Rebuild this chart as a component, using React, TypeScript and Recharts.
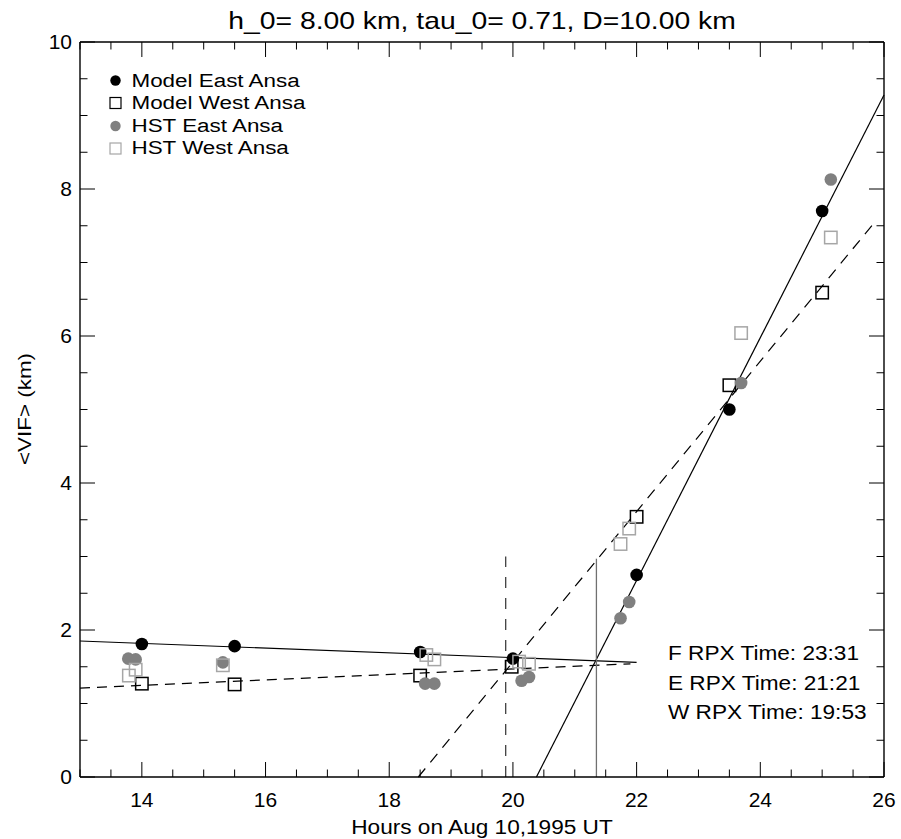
import React from 'react';
import { ComposedChart, Scatter, XAxis, YAxis, ReferenceLine } from 'recharts';

// ---- data ----
const modelEast = [
  { x: 14.0, y: 1.81 }, { x: 15.5, y: 1.78 }, { x: 18.5, y: 1.70 }, { x: 20.0, y: 1.61 },
  { x: 22.0, y: 2.75 }, { x: 23.5, y: 5.0 }, { x: 25.0, y: 7.70 },
];
const modelWest = [
  { x: 14.0, y: 1.27 }, { x: 15.5, y: 1.26 }, { x: 18.5, y: 1.38 }, { x: 19.98, y: 1.50 },
  { x: 22.0, y: 3.54 }, { x: 23.5, y: 5.33 }, { x: 25.0, y: 6.59 },
];
const hstEast = [
  { x: 13.78, y: 1.61 }, { x: 13.9, y: 1.60 }, { x: 15.31, y: 1.56 }, { x: 18.58, y: 1.27 },
  { x: 18.73, y: 1.27 }, { x: 20.14, y: 1.31 }, { x: 20.26, y: 1.36 }, { x: 21.74, y: 2.16 },
  { x: 21.88, y: 2.38 }, { x: 23.69, y: 5.36 }, { x: 25.14, y: 8.13 },
];
const hstWest = [
  { x: 13.79, y: 1.38 }, { x: 13.9, y: 1.46 }, { x: 15.31, y: 1.52 }, { x: 18.6, y: 1.66 },
  { x: 18.73, y: 1.60 }, { x: 20.1, y: 1.57 }, { x: 20.26, y: 1.54 }, { x: 21.74, y: 3.17 },
  { x: 21.88, y: 3.38 }, { x: 23.69, y: 6.04 }, { x: 25.14, y: 7.34 },
];

// fit lines (segments)
const eastFlatFit = [{ x: 13, y: 1.85 }, { x: 22, y: 1.56 }];
const westFlatFit = [{ x: 13, y: 1.21 }, { x: 21.9, y: 1.54 }];
const eastSteepFit = [{ x: 20.38, y: 0 }, { x: 26, y: 9.28 }];
const westSteepFit = [{ x: 18.47, y: 0 }, { x: 25.88, y: 7.58 }];
const westRpxLine = [{ x: 19.883, y: 0 }, { x: 19.883, y: 3.0 }];
const eastRpxLine = [{ x: 21.35, y: 0 }, { x: 21.35, y: 2.97 }];

// ticks
const xTicks = [13, 13.5, 14, 14.5, 15, 15.5, 16, 16.5, 17, 17.5, 18, 18.5, 19, 19.5, 20, 20.5, 21, 21.5, 22, 22.5, 23, 23.5, 24, 24.5, 25, 25.5, 26];
const xLabeled = [14, 16, 18, 20, 22, 24, 26];
const yTicks = [0, 0.5, 1, 1.5, 2, 2.5, 3, 3.5, 4, 4.5, 5, 5.5, 6, 6.5, 7, 7.5, 8, 8.5, 9, 9.5, 10];
const yLabeled = [0, 2, 4, 6, 8, 10];

const titleText = 'h_0= 8.00 km, tau_0= 0.71, D=10.00 km';
const xLabelText = 'Hours on Aug 10,1995 UT';
const yLabelText = '<VIF> (km)';
const legendItems = ['Model East Ansa', 'Model West Ansa', 'HST East Ansa', 'HST West Ansa'];
const rpxNotes = ['F RPX Time: 23:31', 'E RPX Time: 21:21', 'W RPX Time: 19:53'];

const FONT = '"Liberation Sans", Arial, Helvetica, sans-serif';
const MAJ = 15;
const MIN = 7.5;
const GRAY_FILL = '#808080';
const GRAY_SQ = '#a6a6a6';
const SX = 1.18; // horizontal stretch of the original's text

const isMajor = (v: number) => Math.abs(v / 2 - Math.round(v / 2)) < 1e-6;

const SText = ({ x, y, size, anchor = 'start', rotate = 0, sx = SX, children }: any) => (
  <text
    transform={`translate(${x},${y}) rotate(${rotate}) scale(${sx},1)`}
    textAnchor={anchor}
    fontSize={size}
    fontFamily={FONT}
    fill="#000"
  >
    {children}
  </text>
);

const BottomTick = (p: any) => {
  const v = p.payload.value;
  return (
    <g>
      <line x1={p.x} y1={p.y} x2={p.x} y2={p.y - (isMajor(v) ? MAJ : MIN)} stroke="#000" strokeWidth={1} />
      {xLabeled.includes(v) && (
        <SText x={p.x} y={p.y + 30} size={20} anchor="middle" sx={1.05}>{v}</SText>
      )}
    </g>
  );
};
const TopTick = (p: any) => {
  const v = p.payload.value;
  return <line x1={p.x} y1={p.y} x2={p.x} y2={p.y + (isMajor(v) ? MAJ : MIN)} stroke="#000" strokeWidth={1} />;
};
const LeftTick = (p: any) => {
  const v = p.payload.value;
  return (
    <g>
      <line x1={p.x} y1={p.y} x2={p.x + (isMajor(v) ? MAJ : MIN)} y2={p.y} stroke="#000" strokeWidth={1} />
      {yLabeled.includes(v) && (
        <SText x={p.x - 8} y={p.y + 7} size={20} anchor="end" sx={1.05}>{v}</SText>
      )}
    </g>
  );
};
const RightTick = (p: any) => {
  const v = p.payload.value;
  return <line x1={p.x} y1={p.y} x2={p.x - (isMajor(v) ? MAJ : MIN)} y2={p.y} stroke="#000" strokeWidth={1} />;
};

const blackDot = (p: any) => <circle cx={p.cx} cy={p.cy} r={6.3} fill="#000" />;
const grayDot = (p: any) => <circle cx={p.cx} cy={p.cy} r={6.3} fill={GRAY_FILL} />;
const blackSq = (p: any) => <rect x={p.cx - 6.2} y={p.cy - 6.2} width={12.4} height={12.4} fill="none" stroke="#000" strokeWidth={1.5} />;
const graySq = (p: any) => <rect x={p.cx - 6.2} y={p.cy - 6.2} width={12.4} height={12.4} fill="none" stroke={GRAY_SQ} strokeWidth={1.5} />;

export default function App() {
  return (
    <div style={{ position: 'absolute', left: 0, top: 0, width: 901, height: 839, background: '#fff' }}>
      <ComposedChart width={901} height={839} margin={{ top: 0, right: 0, bottom: 0, left: 0 }}>
        <XAxis xAxisId="b" type="number" dataKey="x" domain={[13, 26]} ticks={xTicks} interval={0}
          allowDataOverflow tickSize={0} tickMargin={0} height={62} orientation="bottom"
          axisLine={{ stroke: '#000', strokeWidth: 1.4 }} tick={<BottomTick />} />
        <XAxis xAxisId="t" type="number" dataKey="x" domain={[13, 26]} ticks={xTicks} interval={0}
          allowDataOverflow tickSize={0} tickMargin={0} height={42} orientation="top"
          axisLine={{ stroke: '#000', strokeWidth: 1.4 }} tick={<TopTick />} />
        <YAxis yAxisId="l" type="number" dataKey="y" domain={[0, 10]} ticks={yTicks} interval={0}
          allowDataOverflow tickSize={0} tickMargin={0} width={80} orientation="left"
          axisLine={{ stroke: '#000', strokeWidth: 1.4 }} tick={<LeftTick />} />
        <YAxis yAxisId="r" type="number" dataKey="y" domain={[0, 10]} ticks={yTicks} interval={0}
          allowDataOverflow tickSize={0} tickMargin={0} width={17} orientation="right"
          axisLine={{ stroke: '#000', strokeWidth: 1.4 }} tick={<RightTick />} />

        <ReferenceLine xAxisId="b" yAxisId="l" segment={eastFlatFit} stroke="#000" strokeWidth={1.2} ifOverflow="visible" />
        <ReferenceLine xAxisId="b" yAxisId="l" segment={westFlatFit} stroke="#000" strokeWidth={1.2} strokeDasharray="10 7" ifOverflow="visible" />
        <ReferenceLine xAxisId="b" yAxisId="l" segment={eastSteepFit} stroke="#000" strokeWidth={1.2} ifOverflow="visible" />
        <ReferenceLine xAxisId="b" yAxisId="l" segment={westSteepFit} stroke="#000" strokeWidth={1.2} strokeDasharray="11 8" ifOverflow="visible" />
        <ReferenceLine xAxisId="b" yAxisId="l" segment={westRpxLine} stroke="#404040" strokeWidth={1.3} strokeDasharray="11 10" ifOverflow="visible" />
        <ReferenceLine xAxisId="b" yAxisId="l" segment={eastRpxLine} stroke="#707070" strokeWidth={1.3} ifOverflow="visible" />

        <Scatter xAxisId="b" yAxisId="l" name="Model East Ansa" data={modelEast} shape={blackDot} isAnimationActive={false} />
        <Scatter xAxisId="b" yAxisId="l" name="Model West Ansa" data={modelWest} shape={blackSq} isAnimationActive={false} />
        <Scatter xAxisId="b" yAxisId="l" name="HST East Ansa" data={hstEast} shape={grayDot} isAnimationActive={false} />
        <Scatter xAxisId="b" yAxisId="l" name="HST West Ansa" data={hstWest} shape={graySq} isAnimationActive={false} />

        <SText x={482} y={29} size={24} anchor="middle">{titleText}</SText>
        <SText x={482} y={834} size={19.5} anchor="middle" sx={1.16}>{xLabelText}</SText>
        <SText x={31} y={409} size={19} anchor="middle" rotate={-90}>{yLabelText}</SText>

        <g>
          <circle cx={115.5} cy={80.5} r={5.2} fill="#000" />
          <rect x={110} y={97.5} width={11} height={11} fill="none" stroke="#000" strokeWidth={1.2} />
          <circle cx={115.5} cy={126} r={5.2} fill={GRAY_FILL} />
          <rect x={110} y={143} width={11} height={11} fill="none" stroke={GRAY_SQ} strokeWidth={1.2} />
          {legendItems.map((t, i) => (
            <SText key={t} x={131.5} y={87 + i * 22.4} size={19}>{t}</SText>
          ))}
        </g>
        <g>
          {rpxNotes.map((t, i) => (
            <SText key={t} x={668} y={660 + i * 29.6} size={19.5} sx={1.16}>{t}</SText>
          ))}
        </g>
      </ComposedChart>
    </div>
  );
}
